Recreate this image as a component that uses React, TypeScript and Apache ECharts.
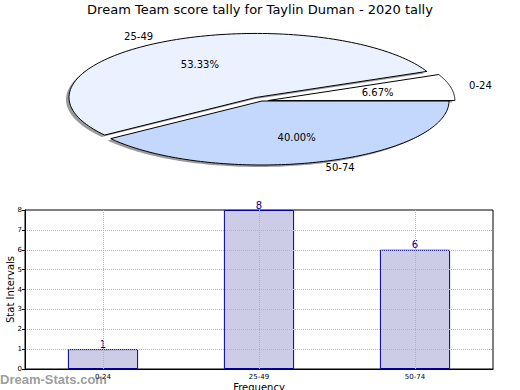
import React, { useEffect, useRef } from 'react';
import * as echarts from 'echarts';

const titleText = 'Dream Team score tally for Taylin Duman - 2020 tally';
const categories = ['0-24', '25-49', '50-74'];
const pieValues = [1, 8, 6];
const barValues = [1, 8, 6];
const yMin = 0;
const yMax = 8;
const yInterval = 1;
const watermark = 'Dream-Stats.com';

// styles (not data)
const pieColors = ['#ffffff', '#ebf1ff', '#c4d8fe'];
const pieExplode = [6, 12, 0];
const PIE = { cx: 262, cy: 101, rx: 187, ry: 64 };
const FONT = 'DejaVu Sans';

const total = pieValues.reduce((a, b) => a + b, 0);
const cumStart: number[] = [];
pieValues.reduce((acc, v, i) => {
  cumStart[i] = acc;
  return acc + v;
}, 0);

function sliceGeom(i: number, value: number) {
  const a0 = (cumStart[i] / total) * Math.PI * 2;
  const a1 = ((cumStart[i] + value) / total) * Math.PI * 2;
  const mid = (a0 + a1) / 2;
  const e = pieExplode[i] || 0;
  const cx = PIE.cx + e * Math.cos(mid);
  const cy = PIE.cy - e * Math.sin(mid) * (PIE.ry / PIE.rx);
  const pts: number[][] = [[cx, cy]];
  const N = 120;
  for (let k = 0; k <= N; k++) {
    const a = a0 + ((a1 - a0) * k) / N;
    pts.push([cx + PIE.rx * Math.cos(a), cy - PIE.ry * Math.sin(a)]);
  }
  return { a0, a1, mid, cx, cy, pts };
}

export default function App() {
  const ref = useRef<HTMLDivElement>(null);
  useEffect(() => {
    if (!ref.current) return;
    const chart = echarts.init(ref.current, undefined, { renderer: 'svg' });
    const pieData = pieValues.map((v, i) => ({ value: v, name: categories[i] }));
    const option: any = {
      animation: false,
      textStyle: { fontFamily: FONT },
      title: {
        text: titleText,
        left: 'center',
        top: 3,
        padding: 0,
        textStyle: { fontSize: 13, fontWeight: 'normal', color: '#000', fontFamily: FONT },
      },
      grid: {
        left: 25,
        right: 27,
        top: 210,
        bottom: 21,
        outerBoundsMode: 'none',
        containLabel: false,
        show: true,
        borderColor: '#000',
        borderWidth: 1,
        backgroundColor: 'transparent',
      },
      xAxis: {
        type: 'category',
        data: categories,
        axisLine: { lineStyle: { color: '#000' } },
        axisTick: { show: false },
        axisLabel: { fontSize: 7, color: '#000', margin: 4, fontFamily: FONT },
        splitLine: { show: false },
        name: 'Frequency',
        nameLocation: 'middle',
        nameGap: 13,
        nameMoveOverlap: false,
        nameTextStyle: { fontSize: 10, color: '#000', fontFamily: FONT },
      },
      yAxis: {
        type: 'value',
        min: yMin,
        max: yMax,
        interval: yInterval,
        z: 3,
        axisLine: { show: true, lineStyle: { color: '#000' } },
        axisTick: { show: true, length: 3, lineStyle: { color: '#000' } },
        axisLabel: { fontSize: 7, color: '#000', margin: 3, fontFamily: FONT },
        splitLine: {
          show: true,
          showMinLine: false,
          showMaxLine: false,
          lineStyle: { type: 'dotted', color: '#b4b4b4', width: 1 },
        },
        name: 'Stat Intervals',
        nameLocation: 'middle',
        nameGap: 10,
        nameMoveOverlap: false,
        nameTextStyle: { fontSize: 10, color: '#000', fontFamily: FONT },
      },
      graphic: [
        {
          type: 'text',
          left: 0,
          top: 373,
          z: 100,
          style: {
            text: watermark,
            font: 'bold 13px "Liberation Sans"',
            fill: 'rgba(100,100,100,0.65)',
          },
        },
      ],
      series: [
        {
          type: 'bar',
          data: barValues,
          barWidth: '45%',
          z: 2,
          itemStyle: { color: '#cccce6', borderColor: '#000099', borderWidth: 1 },
          label: {
            show: true,
            position: 'top',
            distance: 0,
            color: '#000099',
            fontSize: 10,
            fontFamily: FONT,
          },
          markLine: {
            silent: true,
            symbol: ['none', 'none'],
            label: { show: false },
            lineStyle: { type: 'dotted', color: '#b4b4b4', width: 1 },
            data: categories.map((c) => ({ xAxis: c })),
          },
        },
        {
          type: 'custom',
          coordinateSystem: 'none',
          data: pieData,
          z: 1,
          silent: true,
          renderItem: (params: any, api: any) => {
            const i = params.dataIndex;
            const g = sliceGeom(i, api.value(0));
            return {
              type: 'polygon',
              x: -3,
              y: 2,
              shape: { points: g.pts },
              style: { fill: '#9a9a9a', stroke: 'none' },
            };
          },
        },
        {
          type: 'custom',
          coordinateSystem: 'none',
          data: pieData,
          z: 2,
          silent: true,
          renderItem: (params: any, api: any) => {
            const i = params.dataIndex;
            const v = api.value(0);
            const g = sliceGeom(i, v);
            const pct = ((v / total) * 100).toFixed(2) + '%';
            const cosm = Math.cos(g.mid);
            const sinm = Math.sin(g.mid);
            return {
              type: 'group',
              children: [
                {
                  type: 'polygon',
                  shape: { points: g.pts },
                  style: { fill: pieColors[i], stroke: '#000', lineWidth: 1 },
                },
                {
                  type: 'text',
                  x: g.cx + 0.6 * PIE.rx * cosm,
                  y: g.cy - 0.6 * PIE.ry * sinm,
                  style: {
                    text: pct,
                    fill: '#000',
                    fontSize: 10,
                    fontFamily: FONT,
                    align: 'center',
                    verticalAlign: 'middle',
                  },
                },
                {
                  type: 'text',
                  x: g.cx + 1.1 * PIE.rx * cosm,
                  y: g.cy - 1.1 * PIE.ry * sinm,
                  style: {
                    text: categories[i],
                    fill: '#000',
                    fontSize: 10,
                    fontFamily: FONT,
                    align: cosm >= 0 ? 'left' : 'right',
                    verticalAlign: 'middle',
                  },
                },
              ],
            };
          },
        },
      ],
    };
    chart.setOption(option);
    return () => chart.dispose();
  }, []);
  return (
    <div
      ref={ref}
      style={{ position: 'fixed', left: 0, top: 0, width: 520, height: 390, background: '#fff' }}
    />
  );
}
